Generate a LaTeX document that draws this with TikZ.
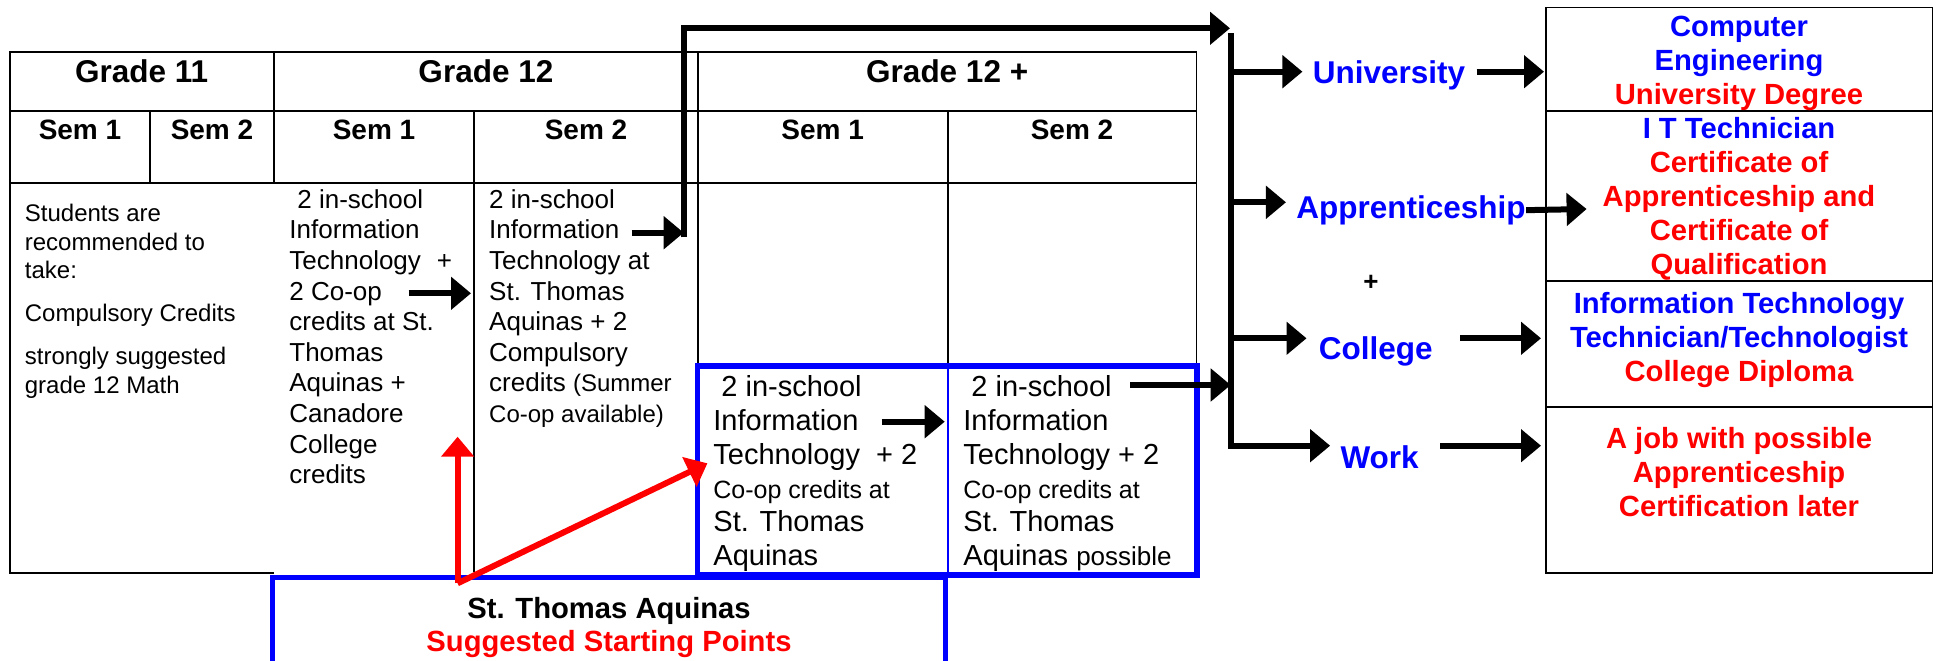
\documentclass[tikz,border=0pt]{standalone}
\usepackage{fontspec}
\setmainfont{Liberation Sans}
\usetikzlibrary{arrows.meta}

\definecolor{pathblue}{RGB}{0,0,255}
\definecolor{pathred}{RGB}{255,0,0}

\newcommand{\gradefont}{\fontsize{15.75}{18}\selectfont\bfseries}
\newcommand{\semfont}{\fontsize{14}{16}\selectfont\bfseries}
\newcommand{\takefont}{\fontsize{12}{14.15}\selectfont}
\newcommand{\cellfont}{\fontsize{13}{15.3}\selectfont}
\newcommand{\gradeplusfont}{\fontsize{14.5}{16.9}\selectfont}
\newcommand{\notefont}{\fontsize{12}{14}\selectfont}
\newcommand{\coopfont}{\fontsize{12.5}{14.5}\selectfont}
\newcommand{\outfont}{\fontsize{14.6}{17}\selectfont\bfseries}
\newcommand{\routefont}{\fontsize{15.75}{18}\selectfont\bfseries}

% multi-line nodes: the base anchor sits on the last line
\tikzset{
  gridline/.style={line width=0.8pt},
  bluebox/.style={draw=pathblue, line width=2.6pt},
  flow/.style={line width=3pt, -{Triangle[length=10pt,width=16pt]}},
  redflow/.style={flow, color=pathred},
  cell/.style={anchor=base west, inner sep=0pt, align=left},
  outcome/.style={anchor=base, inner sep=0pt, align=center, text=pathred, font=\outfont},
  route/.style={anchor=base, inner sep=0pt, text=pathblue, font=\routefont},
}

\begin{document}
\begin{tikzpicture}[x=0.5pt, y=-0.5pt]
\useasboundingbox (0,0) rectangle (1941,660);

% table
\draw[gridline] (273.7,572.7) -- (9.8,572.7) -- (9.8,52) -- (1196.5,52) -- (1196.5,366);
\draw[gridline] (9.8,110.7) -- (1196.5,110.7);
\draw[gridline] (9.8,182.7) -- (1196.5,182.7);
\draw[gridline] (150,110.7) -- (150,182.7);
\draw[gridline] (273.7,52) -- (273.7,182.7);
\draw[gridline] (474,110.7) -- (474,572);
\draw[gridline] (697.8,52) -- (697.8,366);
\draw[gridline] (947.7,110.7) -- (947.7,366);

\draw[bluebox] (697.8,366) rectangle (1197,575);
\draw[pathblue, line width=1.2pt] (947.7,366) -- (947.7,575);
\draw[bluebox] (272.3,690) -- (272.3,577.7) -- (945.8,577.7) -- (945.8,690);

\node[font=\gradefont, anchor=base] (g11) at (141.7,82.7) {Grade 11};
\node[font=\gradefont, anchor=base] (g12) at (485.9,82.7) {Grade 12};
\node[font=\gradefont, anchor=base] (g12p) at (947.2,82.7) {Grade 12 +};

\node[font=\semfont, anchor=base] (g11a) at (80,139) {Sem 1};
\node[font=\semfont, anchor=base] (g11b) at (212,139) {Sem 2};
\node[font=\semfont, anchor=base] (g12a) at (374,139) {Sem 1};
\node[font=\semfont, anchor=base] (g12b) at (586,139) {Sem 2};
\node[font=\semfont, anchor=base] (g12pa) at (822.7,139) {Sem 1};
\node[font=\semfont, anchor=base] (g12pb) at (1072,139) {Sem 2};

\node[cell, font=\takefont] (take) at (24.5,393.2)
  {Students are\\recommended to\\take:\\[7.5pt]Compulsory Credits\\[7.5pt]strongly suggested\\grade 12 Math};
\node[cell, font=\cellfont] (c12a) at (289,483.7)
  {\hspace*{4pt}2 in-school\\Information\\Technology\hspace{8pt}+\\2 Co-op\\credits at St.\\Thomas\\Aquinas +\\Canadore\\College\\credits};
\node[cell, font=\cellfont] (c12b) at (488.8,422.5)
  {2 in-school\\Information\\Technology at\\St. Thomas\\Aquinas + 2\\Compulsory\\credits {\notefont (Summer}\\{\notefont Co-op available)}};
\node[cell, font=\gradeplusfont] (c12pa) at (713,565.7)
  {\hspace*{4pt}2 in-school\\Information\\Technology\hspace{8pt}+ 2\\{\coopfont Co-op credits at}\\St. Thomas\\Aquinas};
\node[cell, font=\gradeplusfont] (c12pb) at (963,565.7)
  {\hspace*{4pt}2 in-school\\Information\\Technology + 2\\{\coopfont Co-op credits at}\\St. Thomas\\Aquinas {\fontsize{13}{15}\selectfont possible}};

\node[font=\outfont, anchor=base] (sta) at (609,618.3) {St. Thomas Aquinas};
\node[font=\outfont, anchor=base, text=pathred] (start) at (609,651.7) {Suggested Starting Points};

% outcome boxes
\coordinate (outNW) at (1546,7.3);
\coordinate (outSE) at (1932.5,572.7);
\draw[gridline] (outNW) rectangle (outSE);
\draw[gridline] (1546,110.7) -- (1932.5,110.7);
\draw[gridline] (1546,281) -- (1932.5,281);
\draw[gridline] (1546,406.7) -- (1932.5,406.7);

\node[outcome] (out1) at (1739,104)
  {\textcolor{pathblue}{Computer}\\\textcolor{pathblue}{Engineering}\\University Degree};
\node[outcome] (out2) at (1739,274.3)
  {\textcolor{pathblue}{I T Technician}\\Certificate of\\Apprenticeship and\\Certificate of\\Qualification};
\node[outcome] (out3) at (1739,381.3)
  {\textcolor{pathblue}{Information Technology}\\\textcolor{pathblue}{Technician/Technologist}\\College Diploma};
\node[outcome] (out4) at (1739,516.3)
  {A job with possible\\Apprenticeship\\Certification later};

% routes
\node[route] (uni) at (1389,83.3) {University};
\node[route] (appr) at (1411,218.3) {Apprenticeship};
\node[font=\fontsize{13}{15}\selectfont\bfseries] (plus) at (1371,283.3) {+};
\node[route] (coll) at (1375.8,359.3) {College};
\node[route] (work) at (1379.6,468.3) {Work};

\coordinate (jtop) at (1230.7,33);
\coordinate (juni) at (1230.7,71.7);
\coordinate (jappr) at (1230.7,202.3);
\coordinate (jcoll) at (1230.7,338.3);
\coordinate (jwork) at (1230.7,445.7);
\coordinate (toptip) at (1230,28.3);
\coordinate (apprtip) at (1586.6,209);

\draw[flow, shorten >=5pt] (jtop) -- (jwork) -- (jwork -| work.west);
\draw[flow, shorten >=5pt] (juni) -- (juni -| uni.west);
\draw[flow, shorten >=5pt] (jappr) -- (jappr -| appr.west);
\draw[flow, shorten >=6pt] (jcoll) -- (jcoll -| coll.west);

\draw[flow, shorten <=5.5pt, shorten >=1pt] (juni -| uni.east) -- (juni -| outNW);
\draw[flow] (appr.east) -- (apprtip);
\draw[flow, shorten <=13.5pt, shorten >=2.5pt] (jcoll -| coll.east) -- (jcoll -| outNW);
\draw[flow, shorten <=10.5pt, shorten >=2.5pt] (jwork -| work.east) -- (jwork -| outNW);

% arrows inside the table
\coordinate (coopA) at (408.5,293.3);
\coordinate (infoA) at (631.6,232.7);
\coordinate (riser) at (683.7,237.3);
\coordinate (plusA) at (881.5,421.7);
\coordinate (toTrunk) at (1130,385);

\draw[flow] (coopA) -- (471,293.3);
\draw[flow] (infoA) -- (infoA -| riser);
\draw[flow] (riser) |- (toptip);
\draw[flow] (plusA) -- (944.7,421.7);
\draw[flow] (toTrunk) -- (toTrunk -| jtop);

% suggested starting points
\coordinate (redfoot) at (457.6,583.3);
\coordinate (redtipA) at (457.6,436.7);
\coordinate (redtipB) at (707.4,463.3);
\draw[redflow] (redfoot) -- (redtipA);
\draw[redflow] (redfoot) -- (redtipB);

\end{tikzpicture}
\end{document}
